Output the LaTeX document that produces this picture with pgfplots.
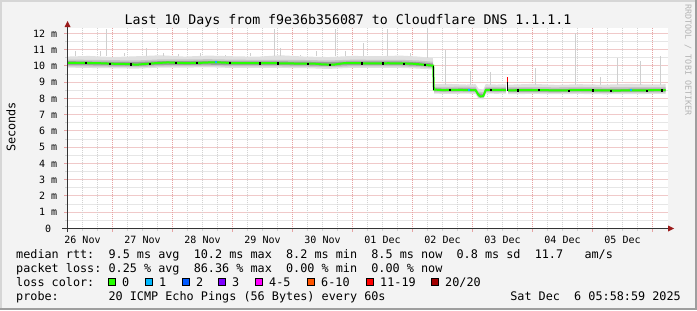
\documentclass[border=0pt]{standalone}
\usepackage{fontspec}
\setmainfont{DejaVu Sans Mono}
\setmonofont{DejaVu Sans Mono}
\usepackage{pgfplots}
\usepackage{pgfplotstable}
\pgfplotsset{compat=1.18}
\definecolor{bg}{HTML}{F3F3F3}
\definecolor{bordl}{HTML}{D6D6D6}
\definecolor{bordd}{HTML}{9E9E9E}
\definecolor{axc}{HTML}{333333}
\definecolor{wm}{HTML}{B4B4B4}
\definecolor{mgrid}{HTML}{E6A3A3}
\definecolor{ngrid}{HTML}{D2D2D2}
\definecolor{mgridh}{HTML}{F0C9C9}
\definecolor{ngridh}{HTML}{E6E6E6}
\definecolor{arrowc}{HTML}{9B1B1B}
\definecolor{sA}{HTML}{E0E0E0}
\definecolor{sB}{HTML}{C6C6C6}
\definecolor{sC}{HTML}{9C9C9C}
\definecolor{spk}{HTML}{CFCFCF}
\definecolor{c0}{HTML}{26FF00}
\definecolor{c1}{HTML}{00B8FF}
\definecolor{c2}{HTML}{0059FF}
\definecolor{c3}{HTML}{7E00FF}
\definecolor{c4}{HTML}{FF00FF}
\definecolor{c5}{HTML}{FF5500}
\definecolor{c6}{HTML}{FF0000}
\definecolor{c7}{HTML}{A10000}

\pgfplotstableread{
d med
0.25 10.20
0.5 10.19
0.8 10.17
1.0 10.14
1.25 10.12
1.4 10.08
1.52 10.12
1.7 10.17
1.92 10.22
2.1 10.19
2.25 10.18
2.5 10.20
2.68 10.23
2.85 10.21
3.02 10.17
3.3 10.17
3.58 10.18
3.9 10.16
4.1 10.15
4.35 10.15
4.5 10.10
4.68 10.08
4.85 10.17
5.0 10.18
5.3 10.16
5.6 10.17
5.97 10.15
6.13 10.10
6.25 10.05
6.345 10.02
6.355 8.55
6.5 8.52
6.7 8.53
6.9 8.52
7.05 8.52
7.10 8.22
7.13 8.12
7.18 8.15
7.22 8.52
7.4 8.53
7.555 8.52
7.556 nan
7.59 nan
7.595 8.50
7.9 8.52
8.2 8.51
8.5 8.50
8.8 8.52
9.1 8.50
9.4 8.49
9.7 8.50
10.0 8.51
10.22 8.51
}\median

\pgfplotstableread{
d b e
0.38 10.6 0.30
0.80 10.6 0.30
0.90 10.6 1.70
1.20 10.6 0.20
1.57 10.6 0.50
1.85 10.6 0.20
2.10 10.6 0.15
2.47 10.6 0.20
2.88 10.6 0.10
3.30 10.6 0.20
3.70 10.6 1.70
3.80 10.6 0.50
4.13 10.6 0.10
4.40 10.6 0.30
4.72 10.6 1.70
4.88 10.6 0.30
5.18 10.6 0.80
5.58 10.6 1.70
5.97 10.6 0.20
6.25 10.5 1.80
6.55 8.85 2.15
6.97 8.85 0.85
7.30 8.85 0.75
8.05 8.85 1.05
8.72 8.85 3.15
9.13 8.85 0.45
9.42 8.85 1.65
9.80 8.85 1.45
10.13 8.85 1.75
}\spikes

\begin{document}
\begin{tikzpicture}[x=1bp,y=1bp]
\fill[bg] (0,0) rectangle (697,310);
\fill[bordl] (0,308) rectangle (697,310);
\fill[bordl] (0,0) rectangle (2,310);
\fill[bordd] (0,0) rectangle (697,2);
\fill[bordd] (695,0) rectangle (697,310);

\begin{axis}[
  at={(67.5bp,81.5bp)}, anchor=south west,
  scale only axis, width=600bp, height=200bp,
  xmin=0.25, xmax=10.25, ymin=0, ymax=12.3077,
  axis background/.style={fill=white},
  axis x line=bottom, axis y line=left,
  axis line style={-, axc, line width=1bp},
  xtick={0.5,1.5,...,9.5},
  xticklabels={26 Nov,27 Nov,28 Nov,29 Nov,30 Nov,01 Dec,02 Dec,03 Dec,04 Dec,05 Dec},
  xtick style={draw=none},
  ytick={0,...,12},
  yticklabels={0~~,1 m,2 m,3 m,4 m,5 m,6 m,7 m,8 m,9 m,10 m,11 m,12 m},
  ytick style={draw=none},
  ticklabel style={font=\fontsize{10bp}{12bp}\selectfont, inner sep=0pt},
  yticklabel style={anchor=base east, xshift=-8bp, yshift=-3.6bp},
  xticklabel style={anchor=base, yshift=-13bp},
  unbounded coords=jump,
  clip=false,
]
% grid (drawn first, below the data)
\pgfplotsinvokeforeach{0.49231,1.47692,2.52308,3.50769,4.49231,5.47692,6.52308,7.50769,8.49231,9.47692,10.52308,11.50769}{
  \draw[ngridh, line width=1bp] (axis cs:0.25,#1) -- (axis cs:10.25,#1);
  \draw[ngrid, line width=1bp] (axis cs:0.24167,#1) -- (axis cs:0.20833,#1);
}
\pgfplotsinvokeforeach{0.98462,2.03077,3.01538,4,4.98462,6.03077,7.01538,8,8.98462,10.03077,11.01538,12}{
  \draw[mgridh, line width=1bp] (axis cs:0.25,#1) -- (axis cs:10.25,#1);
  \draw[mgrid, line width=1bp] (axis cs:0.24167,#1) -- (axis cs:0.19167,#1);
}
\pgfplotsinvokeforeach{0.5,0.75,1.25,1.5,1.75,2.25,2.5,2.75,3.25,3.5,3.75,4.25,4.5,4.75,5.25,5.5,5.75,6.25,6.5,6.75,7.25,7.5,7.75,8.25,8.5,8.75,9.25,9.5,9.75}{
  \draw[ngrid, line width=1bp, dash pattern=on 1bp off 1bp, dash phase=0.5bp] (axis cs:#1,0) -- (axis cs:#1,12.3077);
  \draw[ngrid, line width=1bp] (axis cs:#1,-0.0308) -- (axis cs:#1,-0.1538);
}
\pgfplotsinvokeforeach{1,...,10}{
  \draw[mgrid, line width=1bp, dash pattern=on 1bp off 1bp, dash phase=0.5bp] (axis cs:#1,0) -- (axis cs:#1,12.3077);
  \draw[mgrid, line width=1bp] (axis cs:#1,-0.0308) -- (axis cs:#1,-0.2154);
}
% smoke, outer band (segment A then B)
\addplot[fill=sA, draw=none, forget plot] coordinates {
(0.25,10.58)(0.6,10.62)(1.0,10.55)(1.4,10.60)(1.8,10.66)(2.2,10.58)(2.6,10.64)(3.0,10.60)(3.4,10.57)(3.8,10.66)(4.2,10.58)(4.6,10.55)(5.0,10.62)(5.4,10.60)(5.8,10.64)(6.1,10.58)(6.34,10.48)(6.36,8.88)(6.6,8.90)(6.9,8.86)(7.05,8.88)(7.10,8.60)(7.18,8.55)(7.22,8.88)(7.4,8.86)(7.555,8.87)
(7.555,8.30)(7.4,8.29)(7.22,8.30)(7.18,7.94)(7.10,7.98)(7.05,8.28)(6.9,8.30)(6.6,8.28)(6.36,8.30)(6.34,9.78)(6.1,9.84)(5.8,9.88)(5.4,9.88)(5.0,9.89)(4.6,9.82)(4.2,9.87)(3.8,9.88)(3.4,9.89)(3.0,9.88)(2.6,9.92)(2.2,9.90)(1.8,9.90)(1.4,9.84)(1.0,9.86)(0.6,9.88)(0.25,9.90)};
\addplot[fill=sA, draw=none, forget plot] coordinates {
(7.595,8.85)(8.0,8.90)(8.4,8.84)(8.8,8.88)(9.2,8.85)(9.6,8.90)(10.0,8.86)(10.22,8.88)
(10.22,8.28)(10.0,8.28)(9.6,8.27)(9.2,8.26)(8.8,8.28)(8.4,8.27)(8.0,8.28)(7.595,8.27)};
% middle band
\addplot[fill=sB, draw=none, forget plot] coordinates {
(0.25,10.40)(0.6,10.38)(1.0,10.36)(1.4,10.34)(1.8,10.41)(2.2,10.40)(2.6,10.42)(3.0,10.39)(3.4,10.38)(3.8,10.38)(4.2,10.37)(4.6,10.34)(5.0,10.39)(5.4,10.38)(5.8,10.38)(6.1,10.34)(6.34,10.26)(6.36,8.72)(6.6,8.72)(6.9,8.73)(7.05,8.71)(7.10,8.42)(7.18,8.38)(7.22,8.72)(7.4,8.71)(7.555,8.72)
(7.555,8.38)(7.4,8.37)(7.22,8.38)(7.18,8.02)(7.10,8.06)(7.05,8.37)(6.9,8.38)(6.6,8.37)(6.36,8.38)(6.34,9.87)(6.1,9.93)(5.8,9.97)(5.4,9.97)(5.0,9.98)(4.6,9.92)(4.2,9.96)(3.8,9.97)(3.4,9.98)(3.0,9.97)(2.6,10.00)(2.2,9.99)(1.8,9.98)(1.4,9.93)(1.0,9.95)(0.6,9.97)(0.25,9.98)};
\addplot[fill=sB, draw=none, forget plot] coordinates {
(7.595,8.70)(8.0,8.70)(8.4,8.69)(8.8,8.71)(9.2,8.69)(9.6,8.70)(10.0,8.70)(10.22,8.71)
(10.22,8.37)(10.0,8.36)(9.6,8.36)(9.2,8.35)(8.8,8.37)(8.4,8.35)(8.0,8.36)(7.595,8.36)};
% inner band
\addplot[fill=sC, draw=none, forget plot] coordinates {
(0.25,10.30)(0.6,10.28)(1.0,10.26)(1.4,10.24)(1.8,10.30)(2.2,10.30)(2.6,10.32)(3.0,10.29)(3.4,10.29)(3.8,10.28)(4.2,10.27)(4.6,10.24)(5.0,10.29)(5.4,10.28)(5.8,10.28)(6.1,10.24)(6.34,10.15)(6.36,8.62)(6.6,8.61)(6.9,8.62)(7.05,8.61)(7.10,8.32)(7.18,8.28)(7.22,8.62)(7.4,8.61)(7.555,8.62)
(7.555,8.45)(7.4,8.44)(7.22,8.45)(7.18,8.10)(7.10,8.14)(7.05,8.44)(6.9,8.45)(6.6,8.44)(6.36,8.45)(6.34,9.95)(6.1,10.01)(5.8,10.05)(5.4,10.05)(5.0,10.06)(4.6,10.00)(4.2,10.04)(3.8,10.05)(3.4,10.06)(3.0,10.05)(2.6,10.08)(2.2,10.07)(1.8,10.06)(1.4,10.01)(1.0,10.03)(0.6,10.05)(0.25,10.06)};
\addplot[fill=sC, draw=none, forget plot] coordinates {
(7.595,8.60)(8.0,8.60)(8.4,8.59)(8.8,8.61)(9.2,8.59)(9.6,8.60)(10.0,8.60)(10.22,8.61)
(10.22,8.44)(10.0,8.43)(9.6,8.43)(9.2,8.42)(8.8,8.44)(8.4,8.42)(8.0,8.43)(7.595,8.43)};
% spikes
\addplot[draw=none, mark=none, forget plot,
  error bars/.cd, y dir=plus, y explicit, error mark=none,
  error bar style={draw=spk, line width=1bp, solid}] table[x=d, y=b, y error=e]{\spikes};
% median
\addplot[c0, line width=2bp, forget plot] table[x=d, y=med]{\median};
\addplot[black, line width=1bp, forget plot] coordinates {(6.35,10.03) (6.35,8.55)};
\addplot[black, line width=1bp, forget plot] coordinates {(7.575,8.45) (7.575,9.02)};
\addplot[c6, line width=1bp, forget plot] coordinates {(7.575,9.02) (7.575,9.32)};
\addplot[c1, line width=2bp, forget plot] coordinates {(2.70,10.23) (2.74,10.23)};
\addplot[c1, line width=2bp, forget plot] coordinates {(6.93,8.52) (6.96,8.52)};
\addplot[c1, line width=2bp, forget plot] coordinates {(9.62,8.50) (9.65,8.50)};
\addplot[only marks, mark=square*, mark size=0.6bp, black, forget plot] coordinates {
(0.55,10.19) (0.95,10.15) (1.3,10.11) (1.62,10.15) (2.05,10.20) (2.4,10.19) (2.95,10.19)
(3.45,10.17) (3.75,10.17) (4.25,10.15) (4.62,10.09) (5.15,10.17) (5.5,10.17) (5.85,10.16)
(6.2,10.07) (6.62,8.52) (7.3,8.53) (7.75,8.51) (8.1,8.52) (8.6,8.50) (9.0,8.51)
(9.3,8.50) (9.9,8.50) (10.15,8.51)};
\end{axis}

% axes lines and arrows
\draw[line width=1bp, axc] (62,81.5) -- (668,81.5);
\fill[arrowc] (668,78.5) -- (674,81.5) -- (668,84.5) -- cycle;
\draw[line width=1bp, axc] (67.5,78) -- (67.5,283);
\fill[arrowc] (64.5,283) -- (67.5,289) -- (70.5,283) -- cycle;

% title and labels
\node[anchor=base, inner sep=0pt, font=\fontsize{13.25bp}{15bp}\selectfont] at (348,286) {Last 10 Days from f9e36b356087 to Cloudflare DNS 1.1.1.1};
\node[rotate=90, inner sep=0pt, font=\fontsize{11.8bp}{14bp}\selectfont] at (11,183) {Seconds};
\node[rotate=-90, inner sep=0pt, text=wm, font=\fontsize{8.4bp}{10bp}\selectfont] at (688,250) {RRDTOOL / TOBI OETIKER};

\begin{scope}[every node/.style={inner sep=0pt, anchor=base west, font=\fontsize{11.8bp}{14bp}\selectfont}]
\node at (16,52) {median rtt:~~9.5 ms avg~~10.2 ms max~~8.2 ms min~~8.5 ms now~~0.8 ms sd~~11.7~~~am/s};
\node at (16,38) {packet loss:~0.25 \% avg~~86.36 \% max~~0.00 \% min~~0.00 \% now};
\node at (16,24) {loss color:};
\node at (16,10) {probe:~~~~~~~20 ICMP Echo Pings (56 Bytes) every 60s};
\node[anchor=base east] at (681,10) {Sat Dec~~6 05:58:59 2025};
\foreach \bx/\col/\lab in {108/c0/0, 145/c1/1, 182/c2/2, 218/c3/3, 255/c4/4-5, 307/c5/6-10, 366/c6/11-19, 431/c7/{20/20}} {
  \filldraw[fill=\col, draw=black, line width=1bp] (\bx,24.5) rectangle (\bx+7,31.5);
  \node at (\bx+14,24) {\lab};
}
\end{scope}
\end{tikzpicture}
\end{document}
